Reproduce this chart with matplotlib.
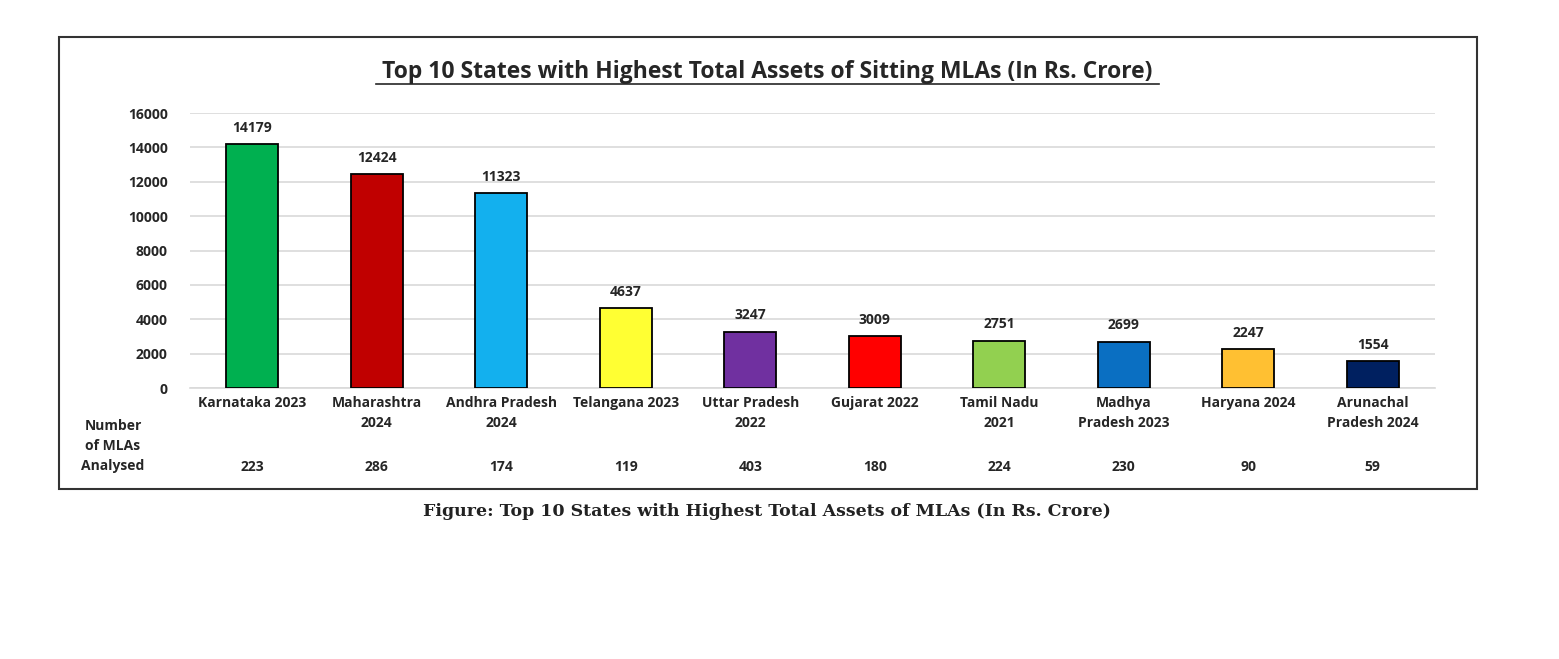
import matplotlib.pyplot as plt
from matplotlib.patches import Rectangle

states = ["Karnataka 2023", "Maharashtra\n2024", "Andhra Pradesh\n2024", "Telangana 2023",
          "Uttar Pradesh\n2022", "Gujarat 2022", "Tamil Nadu\n2021", "Madhya\nPradesh 2023",
          "Haryana 2024", "Arunachal\nPradesh 2024"]
assets = [14179, 12424, 11323, 4637, 3247, 3009, 2751, 2699, 2247, 1554]
mlas = [223, 286, 174, 119, 403, 180, 224, 230, 90, 59]
colors = ["#00B050", "#C00000", "#13B0EE", "#FFFF33", "#7030A0",
          "#FF0000", "#92D050", "#0A6FC2", "#FFC032", "#002060"]
yticks = [0, 2000, 4000, 6000, 8000, 10000, 12000, 14000, 16000]

plt.rcParams['font.family'] = ['Open Sans', 'DejaVu Sans']

fig = plt.figure(figsize=(15.59, 6.59), dpi=100)
ax = fig.add_axes([0.1219, 0.4112, 0.7985, 0.4173])

x = range(len(states))
ax.bar(x, assets, width=0.42, color=colors, edgecolor="black", linewidth=1.3, zorder=3)
for i, v in enumerate(assets):
    ax.annotate(str(v), (i, v), xytext=(0, 7), textcoords="offset points",
                ha="center", va="bottom", fontsize=10, fontweight="bold", color="#262626")

ax.set_xlim(-0.5, len(states) - 0.5)
ax.set_ylim(0, 16000)
ax.set_yticks(yticks)
ax.set_yticklabels([str(t) for t in yticks], fontsize=10, fontweight="bold", color="#262626")
ax.set_xticks(list(x))
ax.set_xticklabels(states, fontsize=10, fontweight="bold", color="#262626", linespacing=1.55)
ax.tick_params(axis="both", length=0, pad=6)
ax.tick_params(axis="y", pad=16)
ax.grid(axis="y", color="#d9d9d9", linewidth=1.2, zorder=0)
for s in ["top", "right", "left"]:
    ax.spines[s].set_visible(False)
ax.spines["bottom"].set_color("#d9d9d9")
ax.spines["bottom"].set_linewidth(1.2)

# number of MLAs row
for i, n in enumerate(mlas):
    ax.text(i, -0.288, str(n), transform=ax.get_xaxis_transform(), ha="center", va="center",
            fontsize=10, fontweight="bold", color="#262626")
fig.text(113 / 1559, 1 - 446 / 659, "Number\nof MLAs\nAnalysed", ha="center", va="center",
         fontsize=10, fontweight="bold", color="#262626", linespacing=1.55)

fig.text(767 / 1559, 1 - 72 / 659, "Top 10 States with Highest Total Assets of Sitting MLAs (In Rs. Crore)",
         ha="center", va="center", fontsize=16.5, fontweight="bold", color="#262626")
fig.add_artist(plt.Line2D([376 / 1559, 1159 / 1559], [1 - 84 / 659, 1 - 84 / 659],
                          color="#262626", linewidth=1.2))

fig.add_artist(Rectangle((59 / 1559, 1 - 489 / 659), (1477 - 59) / 1559, (489 - 37) / 659,
                         fill=False, edgecolor="#333333", linewidth=1.5, transform=fig.transFigure))

fig.text(767 / 1559, 1 - 511 / 659, "Figure: Top 10 States with Highest Total Assets of MLAs (In Rs. Crore)",
         ha="center", va="center", fontsize=12.5, fontweight="bold", family="DejaVu Serif", color="#222222")

fig.savefig("out.png", dpi=100)
